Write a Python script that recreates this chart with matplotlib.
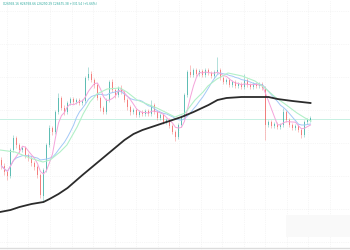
import numpy as np
import pandas as pd
import matplotlib
matplotlib.use("Agg")
import matplotlib.pyplot as plt
from matplotlib.patches import Rectangle

# ---- data ----
opens = [26400, 26340, 26280, 26240, 26500, 26620, 26550, 26500, 26520, 26450,
         26420, 26370, 26330, 26250, 26040, 26300, 26550, 26720, 26680, 26880,
         27020, 26920, 26880, 26970, 27010, 26980, 27000, 26970, 26990, 27220,
         27260, 27200, 27150, 27020, 26920, 26880, 27000, 27180, 27100, 27050,
         27120, 27080, 27000, 26930, 26880, 26900, 26850, 26880, 26860, 26890,
         26860, 26950, 26880, 26820, 26850, 26780, 26800, 26740, 26680, 26630,
         26750, 26830, 27050, 27280, 27250, 27300, 27260, 27290, 27250, 27300,
         27270, 27240, 27280, 27300, 27220, 27180, 27200, 27150, 27180, 27140,
         27160, 27130, 27200, 27150, 27130, 27160, 27140, 27160, 27120, 26750,
         26780, 26740, 26760, 26730, 26750, 26880, 26800, 26750, 26720, 26740,
         26700, 26650, 26780, 26800]
closes = [26340, 26280, 26240, 26500, 26620, 26550, 26500, 26520, 26450, 26420,
          26370, 26330, 26250, 26050, 26300, 26550, 26720, 26680, 26880, 27020,
          26920, 26880, 26970, 27010, 26980, 27000, 26970, 26990, 27220, 27260,
          27200, 27150, 27020, 26920, 26880, 27000, 27180, 27100, 27050, 27120,
          27080, 27000, 26930, 26880, 26900, 26850, 26880, 26860, 26890, 26860,
          26950, 26880, 26820, 26850, 26780, 26800, 26740, 26680, 26630, 26750,
          26830, 27050, 27280, 27250, 27300, 27260, 27290, 27250, 27300, 27270,
          27240, 27280, 27300, 27220, 27180, 27200, 27150, 27180, 27140, 27160,
          27130, 27200, 27150, 27130, 27160, 27140, 27160, 27120, 26750, 26780,
          26740, 26760, 26730, 26750, 26880, 26800, 26750, 26720, 26740, 26700,
          26650, 26780, 26800, 26820]
highs = [26430, 26370, 26300, 26520, 26650, 26640, 26570, 26540, 26540, 26470,
         26440, 26390, 26350, 26270, 26320, 26570, 26750, 26740, 26900, 27070,
         27040, 26950, 26990, 27030, 27030, 27020, 27020, 27010, 27240, 27330,
         27290, 27220, 27170, 27040, 26940, 27020, 27200, 27210, 27120, 27140,
         27150, 27100, 27020, 26950, 26920, 26920, 26900, 26900, 26910, 26910,
         27000, 26970, 26900, 26870, 26870, 26820, 26820, 26760, 26700, 26770,
         26850, 27070, 27300, 27350, 27320, 27320, 27310, 27310, 27320, 27320,
         27290, 27300, 27430, 27320, 27240, 27220, 27220, 27200, 27200, 27180,
         27180, 27260, 27220, 27170, 27180, 27180, 27180, 27180, 27140, 26800,
         26800, 26780, 26780, 26770, 26920, 26900, 26820, 26770, 26760, 26760,
         26720, 26800, 26820, 26840]
lows = [26310, 26250, 26200, 26220, 26480, 26520, 26470, 26480, 26420, 26390,
        26340, 26300, 26220, 26020, 25980, 26280, 26530, 26650, 26660, 26860,
        26900, 26850, 26860, 26950, 26960, 26960, 26950, 26950, 26970, 27200,
        27180, 27120, 27000, 26890, 26860, 26860, 26980, 27080, 27020, 27030,
        27060, 26980, 26900, 26850, 26860, 26830, 26830, 26840, 26840, 26840,
        26840, 26860, 26800, 26800, 26760, 26760, 26720, 26660, 26590, 26610,
        26730, 26810, 27030, 27230, 27230, 27240, 27240, 27230, 27230, 27250,
        27220, 27220, 27260, 27200, 27160, 27160, 27130, 27130, 27120, 27120,
        27110, 27110, 27130, 27110, 27110, 27120, 27120, 27100, 26600, 26730,
        26720, 26720, 26710, 26710, 26730, 26780, 26730, 26700, 26700, 26680,
        26620, 26630, 26760, 26780]

# long moving averages, read as knots (candle index, price)
ma_long_idx = [-0.5, 3, 6, 10, 14, 16, 19, 22, 27, 33, 37, 41, 44, 47, 52, 56,
               60, 64, 69, 72, 75, 80, 86, 89, 92, 97, 103]
ma_long_val = [25880, 25900, 25930, 25960, 25980, 26010, 26060, 26120, 26250,
               26400, 26500, 26600, 26660, 26700, 26750, 26790, 26830, 26880,
               26950, 27000, 27020, 27030, 27030, 27030, 27010, 26990, 26970]
ma_mid_idx = [-0.5, 4.5, 9.5, 13.8, 16.2, 19.5, 21.8, 25.2, 27.2, 29.5, 31.8,
              35.2, 39.5, 41.8, 45.2, 48.5, 51.8, 55.2, 57.8, 61.2, 64.5, 67.2,
              68.8, 71.8, 75.5, 80.2, 84.5, 87.8, 91.2, 94.5, 98.5, 101.2, 103.2]
ma_mid_val = [26500, 26480, 26420, 26380, 26400, 26480, 26550, 26730, 26860,
              26980, 27060, 27110, 27120, 27080, 27000, 26960, 26920, 26870,
              26830, 26870, 27000, 27080, 27140, 27210, 27270, 27240, 27190,
              27120, 27030, 26960, 26870, 26820, 26790]
price_line = 26810
header = "O26958.16 H26768.66 L26290.29 C26675.38 +331.54 (+5.66%)"

# ---- figure ----
fig = plt.figure(figsize=(3.5, 2.5), dpi=100)
ax = fig.add_axes([0, 0, 1, 1])
ax.set_xlim(-0.5, 116.17)
ax.set_ylim(25500, 28000)
ax.axis("off")

# grid
for gx in np.arange(1.83, 117, 7.17):
    ax.axvline(gx, color="#eeeeee", lw=0.5, ls=":", zorder=0)
for gy in np.arange(25580, 28000, 330):
    ax.axhline(gy, color="#eeeeee", lw=0.5, ls=":", zorder=0)

ax.axhline(price_line, color="#c6f0e2", lw=0.7, zorder=1)
ax.axhline(25520, color="#dcdcdc", lw=1.0, zorder=1)
ax.add_patch(Rectangle((95, 25630), 21.5, 220, color="#f9f9f9", lw=0, zorder=0))

o = np.array(opens); c = np.array(closes)
h = np.array(highs); l = np.array(lows)
x = np.arange(len(o))
up = c >= o
col = np.where(up, "#26a69a", "#ef5350")
ax.vlines(x, l, h, colors=col, lw=0.45, alpha=0.55, zorder=2)
ax.bar(x, np.abs(c - o), bottom=np.minimum(o, c), width=0.6, color=col,
       alpha=0.6, lw=0, zorder=3)

s = pd.Series(closes)
ax.plot(x, s.rolling(12, min_periods=1).mean(), color="#a3c8f7", lw=0.7, zorder=4)
ax.plot(x, s.rolling(5, min_periods=1).mean(), color="#f5a3da", lw=0.7, zorder=4)
ax.plot(ma_mid_idx, ma_mid_val, color="#b2f0c8", lw=0.8, zorder=4)
ax.plot(ma_long_idx, ma_long_val, color="#2b2b2b", lw=1.3, zorder=5)

ax.text(0.5, 27960, header, fontsize=2.1, color="#26a69a", va="center",
        ha="left", zorder=6)

fig.savefig("out.png", dpi=100)
